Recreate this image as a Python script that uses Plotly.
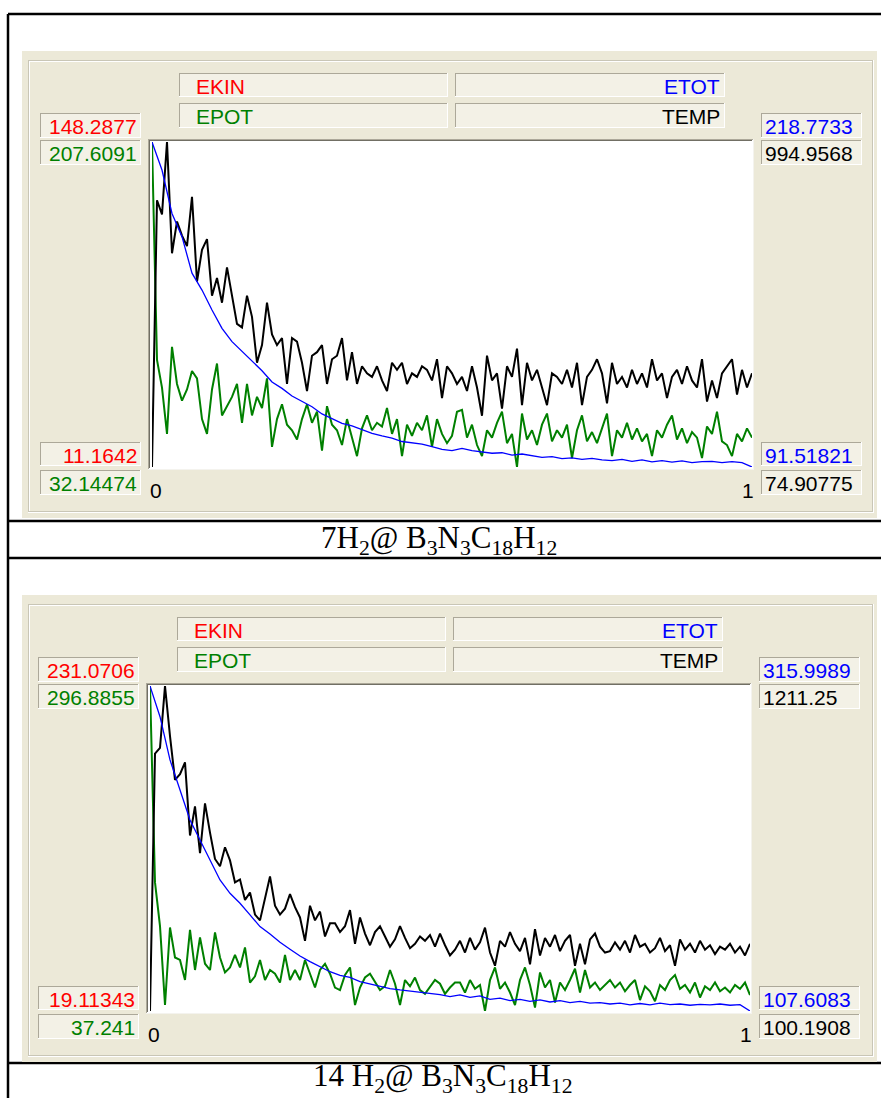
import plotly.graph_objects as go
import numpy as np

W, H = 881, 1098

# ---------------- data: panel 1 (7 H2) ----------------
temp_1 = [74.90775, 830, 790, 994.9568, 680, 770, 730, 700, 840, 600,
          690, 720, 560, 610, 540, 640, 560, 480, 470, 560,
          500, 370, 420, 540, 450, 420, 440, 310, 440, 430,
          370, 290, 390, 400, 420, 310, 380, 390, 440, 320,
          400, 310, 360, 340, 330, 360, 320, 290, 370, 350,
          370, 310, 340, 330, 360, 350, 320, 380, 270, 360,
          340, 310, 330, 290, 360, 300, 220, 390, 320, 340,
          240, 360, 330, 410, 250, 370, 320, 350, 300, 250,
          340, 330, 310, 350, 300, 370, 250, 330, 350, 380,
          340, 255, 370, 310, 330, 300, 350, 310, 340, 300,
          380, 320, 340, 270, 330, 350, 310, 360, 320, 300,
          380, 260, 320, 270, 340, 360, 380, 280, 350, 300, 340]
epot_1 = [207.6091, 90, 75, 50, 97, 77, 68, 74, 84, 80,
          58, 50, 74, 88, 60, 65, 70, 77, 56, 77,
          60, 70, 64, 80, 43, 58, 66, 55, 52, 47,
          58, 66, 56, 62, 41, 65, 55, 52, 44, 58,
          48, 38, 53, 60, 52, 56, 54, 64, 50, 58,
          38, 55, 49, 56, 52, 60, 43, 58, 50, 45,
          49, 62, 63, 48, 55, 44, 38, 52, 48, 56,
          62, 45, 50, 32.14474, 61, 47, 52, 44, 55, 61,
          46, 52, 48, 55, 37, 52, 60, 46, 51, 45,
          53, 61, 38, 52, 48, 56, 47, 53, 46, 50,
          38, 52, 48, 55, 60, 47, 53, 45, 51, 48,
          37, 54, 50, 62, 46, 44, 38, 50, 46, 53, 48]
etot_1 = [218.7733, 207.8, 190.8, 181.7, 167.4, 160.8, 153.0, 145.8, 140.6, 136.7,
          132.8, 129.2, 124.8, 122.3, 119.3, 117.1, 115.1, 112.3, 110.5, 108.6,
          107.6, 106.0, 104.7, 103.7, 102.8, 101.5, 101.1, 100.5, 99.5, 98.4,
          97.9, 98.8, 97.9, 97.4, 96.9, 97.1, 96.2, 96.6, 95.8, 95.3,
          95.6, 94.8, 95.1, 94.5, 94.9, 94.3, 94.0, 94.5, 93.7, 94.3,
          93.5, 94.0, 93.4, 93.9, 93.2, 93.6, 93.7, 93.2, 93.6, 93.2, 91.51821]

# ---------------- data: panel 2 (14 H2) ----------------
temp_2 = [100.1908, 980, 1000, 1211.25, 1040, 890, 910, 950, 700, 800,
          640, 810, 710, 620, 595, 660, 615, 540, 550, 480,
          505, 430, 410, 480, 560, 460, 430, 450, 500, 455,
          420, 340, 460, 410, 440, 355, 400, 400, 370, 390,
          445, 330, 420, 365, 325, 370, 390, 355, 320, 345,
          390, 350, 315, 330, 355, 340, 360, 320, 365, 325,
          290, 310, 340, 300, 350, 310, 335, 385, 300, 255,
          340, 320, 370, 330, 305, 350, 260, 380, 290, 350,
          320, 360, 305, 340, 360, 255, 330, 260, 345, 365,
          320, 300, 305, 335, 310, 340, 300, 360, 320, 330,
          300, 315, 350, 305, 325, 255, 345, 310, 330, 300,
          340, 310, 325, 295, 320, 310, 330, 300, 320, 290, 330]
epot_2 = [296.8855, 140, 105, 42, 104, 80, 78, 62, 102, 70,
          96, 75, 70, 100, 80, 68, 72, 82, 72, 88,
          60, 65, 78, 62, 70, 67, 60, 82, 62, 70,
          62, 78, 67, 56, 70, 75, 67, 56, 54, 66,
          72, 42, 56, 64, 67, 60, 54, 57, 70, 59,
          42, 62, 57, 64, 54, 51, 57, 62, 59, 51,
          56, 60, 60, 52, 62, 55, 58, 37.241, 62, 72,
          55, 60, 52, 42, 62, 72, 58, 40, 68, 56,
          62, 44, 60, 54, 62, 71, 52, 70, 56, 60,
          54, 58, 62, 56, 60, 53, 58, 62, 46, 57,
          53, 45, 58, 54, 62, 66, 55, 58, 52, 60,
          48, 57, 54, 60, 53, 56, 52, 58, 55, 60, 50]
etot_2 = [315.9989, 296.3, 268.6, 249.3, 230.1, 217.3, 204.4, 191.6, 183.1, 176.7,
          169.2, 161.7, 157.0, 151.7, 147.2, 142.9, 139.3, 136.1, 132.8, 130.5,
          129.2, 126.5, 124.9, 123.2, 122.0, 121.1, 120.3, 119.6, 118.5, 118.1,
          116.8, 117.9, 116.4, 117.3, 115.1, 115.8, 114.3, 115.1, 113.8, 114.7,
          113.4, 114.3, 113.0, 113.8, 112.6, 113.0, 112.1, 112.6, 111.5, 112.4,
          111.5, 112.6, 111.7, 112.1, 111.3, 111.9, 111.5, 112.1, 111.3, 111.7, 107.6083]

# scale labels shown beside each plot: (min, max)
ekin_lbl = [("11.1642", "148.2877"), ("19.11343", "231.0706")]
epot_lbl = [("32.14474", "207.6091"), ("37.241", "296.8855")]
etot_lbl = [("91.51821", "218.7733"), ("107.6083", "315.9989")]
temp_lbl = [("74.90775", "994.9568"), ("100.1908", "1211.25")]
series_names = ["EKIN", "EPOT", "ETOT", "TEMP"]
x_ticks = ["0", "1"]
captions = ["7H<sub>2</sub>@ B<sub>3</sub>N<sub>3</sub>C<sub>18</sub>H<sub>12</sub>",
            "14 H<sub>2</sub>@ B<sub>3</sub>N<sub>3</sub>C<sub>18</sub>H<sub>12</sub>"]

temps = [temp_1, temp_2]
epots = [epot_1, epot_2]
etots = [etot_1, etot_2]

RED, GREEN, BLUE, BLACK = "#ff0000", "#008000", "#0000ff", "#000000"
PANEL = "#ece9d8"
BOXFILL = "#f3f1e6"
SHADOW = "#aca899"
DARK = "#716f64"
UI_FONT = "Liberation Sans"

def fx(px):
    return px / W

def fy(py):
    return 1 - py / H

shapes = []
annotations = []

def rect(x0, y0, x1, y1, fill, line=None, lw=0):
    shapes.append(dict(type="rect", xref="paper", yref="paper",
                       x0=fx(x0), x1=fx(x1), y0=fy(y1), y1=fy(y0),
                       fillcolor=fill, line=dict(width=lw, color=line or fill),
                       layer="below"))

def seg(x0, y0, x1, y1, color, lw=1):
    shapes.append(dict(type="line", xref="paper", yref="paper",
                       x0=fx(x0), x1=fx(x1), y0=fy(y0), y1=fy(y1),
                       line=dict(width=lw, color=color), layer="below"))

def sunken(x0, y0, x1, y1, fill=BOXFILL):
    rect(x0, y0, x1, y1, fill)
    seg(x0, y0 + 0.5, x1, y0 + 0.5, SHADOW)
    seg(x0 + 0.5, y0, x0 + 0.5, y1, SHADOW)
    seg(x0, y1 - 0.5, x1, y1 - 0.5, "#ffffff")
    seg(x1 - 0.5, y0, x1 - 0.5, y1, "#ffffff")

def text(s, x, y, color, xanchor="left", size=21, family=UI_FONT):
    annotations.append(dict(text=s, x=fx(x), y=fy(y), xref="paper", yref="paper",
                            xanchor=xanchor, yanchor="middle", showarrow=False,
                            font=dict(family=family, size=size, color=color)))

fig = go.Figure()

# page background: table rules
seg(8, 14, 881, 14, BLACK, 2.5)
seg(8, 14, 8, 1098, BLACK, 2.5)
for yy in (521, 558, 1063):
    seg(8, yy, 881, yy, BLACK, 2.5)

text(captions[0], 439, 540, BLACK, "center", 31, "Liberation Serif")
text(captions[1], 443, 1078, BLACK, "center", 31, "Liberation Serif")

layout_axes = {}
for p in range(2):
    dy = 544 * p
    dx = -2 * p
    # dialog panel and group frame
    rect(22, 51 + dy, 877, 518 + dy, PANEL)
    seg(28, 60.5 + dy, 873, 60.5 + dy, "#c9c6b6")
    seg(28.5, 60 + dy, 28.5, 512 + dy, "#c9c6b6")
    seg(29, 61.5 + dy, 872, 61.5 + dy, "#ffffff")
    seg(29.5, 61 + dy, 29.5, 511 + dy, "#ffffff")
    seg(28, 511.5 + dy, 873, 511.5 + dy, "#c9c6b6")
    seg(872.5, 60 + dy, 872.5, 512 + dy, "#c9c6b6")
    seg(28, 512.5 + dy, 874, 512.5 + dy, "#ffffff")
    seg(873.5, 60 + dy, 873.5, 513 + dy, "#ffffff")

    # legend boxes
    sunken(179 + dx, 73 + dy, 448 + dx, 97 + dy)
    sunken(179 + dx, 103 + dy, 448 + dx, 128 + dy)
    sunken(455 + dx, 73 + dy, 725 + dx, 97 + dy)
    sunken(455 + dx, 103 + dy, 725 + dx, 128 + dy)
    text(series_names[0], 194 + dx, 86 + dy, RED)
    text(series_names[1], 194 + dx, 116 + dy, GREEN)
    text(series_names[2], 722 + dx, 86 + dy, BLUE, "right")
    text(series_names[3], 722 + dx, 116 + dy, BLACK, "right")

    # scale boxes, left side
    for (y0, y1, s, c) in [(113, 138, ekin_lbl[p][1], RED), (140, 165, epot_lbl[p][1], GREEN),
                           (442, 466, ekin_lbl[p][0], RED), (470, 495, epot_lbl[p][0], GREEN)]:
        sunken(40 + dx, y0 + dy, 141 + dx, y1 + dy)
        text(s, 139 + dx, (y0 + y1) / 2 + dy + 1, c, "right")
    # scale boxes, right side
    for (y0, y1, s, c) in [(113, 138, etot_lbl[p][1], BLUE), (140, 165, temp_lbl[p][1], BLACK),
                           (442, 466, etot_lbl[p][0], BLUE), (470, 495, temp_lbl[p][0], BLACK)]:
        sunken(761 + dx, y0 + dy, 862 + dx, y1 + dy)
        text(s, 763 + dx, (y0 + y1) / 2 + dy + 1, c, "left")

    # plot well
    px0, px1, py0, py1 = 152 + dx, 752 + dx, 142 + dy, 467 + dy
    rect(px0 - 4, py0 - 3, px1 + 2, py1 + 3, "#ffffff")
    seg(px0 - 4, py0 - 2.5, px1 + 1, py0 - 2.5, SHADOW, 1)
    seg(px0 - 4, py0 - 1.5, px1, py0 - 1.5, DARK, 1)
    seg(px0 - 3.5, py0 - 3, px0 - 3.5, py1 + 2, SHADOW, 1)
    seg(px0 - 2.5, py0 - 2, px0 - 2.5, py1 + 1, DARK, 1)
    seg(px0 - 4, py1 + 2.5, px1 + 2, py1 + 2.5, "#f4f3ee", 1)
    seg(px1 + 1.5, py0 - 3, px1 + 1.5, py1 + 3, "#f4f3ee", 1)
    text(x_ticks[0], px0 + 4, 490 + dy, BLACK, "center")
    text(x_ticks[1], px1 - 4, 490 + dy, BLACK, "center")

    # axes: base = EPOT, overlays = TEMP, ETOT
    xs = "" if p == 0 else "2"
    ya, yb, yc = (1, 2, 3) if p == 0 else (4, 5, 6)
    xdom = [fx(px0), fx(px1)]
    ydom = [fy(py1), fy(py0)]
    layout_axes["xaxis" + xs] = dict(domain=xdom, range=[0, 1], visible=False,
                                     anchor="y" + ("" if ya == 1 else str(ya)), fixedrange=True)
    ynames = ["y" + ("" if ya == 1 else str(ya)), "y" + str(yb), "y" + str(yc)]
    rngs = [[float(v) for v in epot_lbl[p]], [float(v) for v in temp_lbl[p]],
            [float(v) for v in etot_lbl[p]]]
    for i, yn in enumerate(ynames):
        key = "yaxis" + yn[1:]
        d = dict(range=rngs[i], visible=False, fixedrange=True, anchor="x" + xs)
        if i == 0:
            d["domain"] = ydom
        else:
            d["overlaying"] = ynames[0]
        layout_axes[key] = d

    n = len(temps[p])
    t = np.linspace(0, 1, n)
    te = np.linspace(0, 1, len(etots[p]))
    fig.add_trace(go.Scatter(x=t, y=epots[p], mode="lines", line=dict(color=GREEN, width=2),
                             xaxis="x" + xs, yaxis=ynames[0], name="EPOT", showlegend=False))
    fig.add_trace(go.Scatter(x=t, y=temps[p], mode="lines", line=dict(color=BLACK, width=2),
                             xaxis="x" + xs, yaxis=ynames[1], name="TEMP", showlegend=False))
    fig.add_trace(go.Scatter(x=te, y=etots[p], mode="lines", line=dict(color=BLUE, width=1.3),
                             xaxis="x" + xs, yaxis=ynames[2], name="ETOT", showlegend=False))

fig.update_layout(width=W, height=H, margin=dict(l=0, r=0, t=0, b=0),
                  paper_bgcolor="#ffffff", plot_bgcolor="rgba(0,0,0,0)",
                  shapes=shapes, annotations=annotations, showlegend=False,
                  **layout_axes)
fig.write_html("out.html", config={"displayModeBar": False})
